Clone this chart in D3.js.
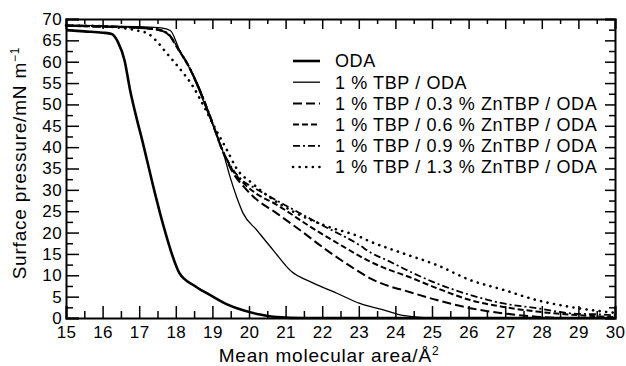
<!DOCTYPE html>
<html>
<head>
<meta charset="utf-8">
<script src="https://cdn.jsdelivr.net/npm/d3@7"></script>
<style>
  body { margin: 0; background: #fff; }
  svg { display: block; font-family: "Liberation Sans", Arial, sans-serif; }
  .axis path, .axis line { stroke: #000; }
  .axis text { font-size: 17px; fill: #000; letter-spacing: 0.4px; }
</style>
</head>
<body>
<svg id="chart" width="626" height="366"></svg>
<script>
// area (Å²) vs surface pressure (mN/m)
const oda = [[15,67.4],[15.5,67.1],[16,66.8],[16.25,66.5],[16.42,64.6],[16.6,60.3],[16.75,53.4],[16.9,47.8],[17.1,41],[17.35,32],[17.65,22],[18.1,10.5],[18.5,7.6],[18.93,5.4],[19.4,3.2],[19.84,1.8],[20.3,0.8],[20.76,0.2],[21.5,0],[30,0]];
const tbp = [[15,68.6],[16,68.4],[17,68.2],[17.6,67.9],[17.85,67.3],[18.1,62.8],[18.33,59.3],[18.6,54],[18.9,47.5],[19.3,38.6],[19.48,33.1],[19.66,28.4],[19.84,24.5],[20.21,20.6],[20.66,15.9],[21.17,10.8],[21.67,8.5],[22.4,5.8],[23.03,3.4],[23.67,1.9],[24.1,0.8],[24.6,0.2],[25,0],[30,0]];
const zn03 = [[15,68.4],[16,68.2],[17,67.9],[17.5,67.5],[17.8,66.4],[18.1,62.5],[18.33,59.3],[18.6,54.5],[18.9,48],[19.3,38.6],[19.6,33.5],[19.85,30.8],[20.12,28.4],[20.76,24.5],[21.39,20.6],[22.12,15.9],[22.94,11.2],[23.31,9.3],[23.85,7.4],[24.22,6.5],[25.13,4.2],[26.04,2.3],[26.95,1.1],[27.86,0.3],[28.5,0],[30,0]];
const zn06 = [[15,68.4],[16,68.2],[17,67.9],[17.5,67.5],[17.8,66.3],[18.1,62.4],[18.33,59.2],[18.6,54.4],[18.9,48],[19.3,38.8],[19.6,34],[19.85,31.6],[20.12,29.6],[20.76,26.5],[21.67,21.4],[22.58,16.7],[23.31,13.2],[23.85,11.2],[24.22,10.1],[25.13,7],[26.04,4.2],[26.95,2.6],[27.86,1.5],[28.77,0.8],[30,0.2]];
const zn09 = [[15,68.5],[16,68.3],[17,68],[17.5,67.6],[17.8,66.5],[18.1,62.6],[18.33,59.4],[18.6,54.6],[18.9,48.2],[19.3,38.9],[19.6,34.3],[19.85,32],[20.12,30.6],[21.12,25.8],[22.03,21.6],[23.03,17],[23.31,15.4],[23.85,13.2],[24.22,11.6],[25.13,8.1],[26.04,5.4],[26.95,3.4],[27.86,2.3],[28.77,1.1],[29.68,0.8],[30,0.6]];
const zn13 = [[15,68.5],[16,68.3],[16.6,67.8],[17,67.2],[17.24,66.6],[17.5,64.6],[17.76,61.9],[17.98,59.7],[18.2,57.4],[18.44,54.6],[18.8,49],[19.1,44],[19.4,39.3],[19.66,35],[20.08,31.6],[20.39,29.4],[21.21,24.9],[22.12,21.5],[23.03,19],[23.31,17.9],[23.85,16.2],[24.22,15.1],[25.13,12.4],[26.04,8.9],[26.95,6.6],[27.86,4.2],[28.77,2.6],[29.68,1.5],[30,1.2]];

const seriesNames = ['ODA', '1 % TBP / ODA', '1 % TBP / 0.3 % ZnTBP / ODA', '1 % TBP / 0.6 % ZnTBP / ODA', '1 % TBP / 0.9 % ZnTBP / ODA', '1 % TBP / 1.3 % ZnTBP / ODA'];
const xTicks = d3.range(15, 31);
const yTicks = d3.range(0, 71, 5);

const styles = [
    { width: 2.6, dash: null, cap: 'butt' },
    { width: 1.3, dash: null, cap: 'butt' },
    { width: 2, dash: '9,4', cap: 'butt' },
    { width: 2, dash: '6,3', cap: 'butt' },
    { width: 1.8, dash: '7,3,2,3', cap: 'butt' },
    { width: 2.6, dash: '0.1,6.5', cap: 'round' },
];
const allSeries = [oda, tbp, zn03, zn06, zn09, zn13];

const svg = d3.select('#chart');
const x = d3.scaleLinear().domain([15, 30]).range([66, 615]);
const y = d3.scaleLinear().domain([0, 70]).range([318, 19]);

// bottom axis, ticks point inward
svg.append('g').attr('class', 'axis').attr('transform', 'translate(0,318)')
    .call(d3.axisBottom(x).tickValues(xTicks).tickSize(-12).tickPadding(8).tickFormat(d3.format('d')));
svg.append('g').attr('class', 'axis minor').attr('transform', 'translate(0,318)')
    .call(d3.axisBottom(x).tickValues(d3.range(15.5, 30, 1)).tickSize(-7).tickFormat(''));
// top
svg.append('g').attr('class', 'axis').attr('transform', 'translate(0,19)')
    .call(d3.axisTop(x).tickValues(xTicks).tickSize(-10).tickFormat(''));
svg.append('g').attr('class', 'axis minor').attr('transform', 'translate(0,19)')
    .call(d3.axisTop(x).tickValues(d3.range(15.5, 30, 1)).tickSize(-5).tickFormat(''));
// left
svg.append('g').attr('class', 'axis').attr('transform', 'translate(66,0)')
    .call(d3.axisLeft(y).tickValues(yTicks).tickSize(-13).tickPadding(4).tickFormat(d3.format('d')));
svg.append('g').attr('class', 'axis minor').attr('transform', 'translate(66,0)')
    .call(d3.axisLeft(y).tickValues(d3.range(2.5, 70, 5)).tickSize(-7).tickFormat(''));
// right
svg.append('g').attr('class', 'axis').attr('transform', 'translate(615,0)')
    .call(d3.axisRight(y).tickValues(yTicks).tickSize(-10).tickFormat(''));
svg.append('g').attr('class', 'axis minor').attr('transform', 'translate(615,0)')
    .call(d3.axisRight(y).tickValues(d3.range(2.5, 70, 5)).tickSize(-6).tickFormat(''));

svg.selectAll('.axis path').attr('stroke-width', 2);
svg.selectAll('.minor path').remove();
svg.selectAll('.axis line').attr('stroke-width', 1.5);

const line = d3.line().x(d => x(d[0])).y(d => y(d[1])).curve(d3.curveMonotoneX);

svg.append('g').selectAll('path')
    .data(allSeries)
    .join('path')
    .attr('d', line)
    .attr('fill', 'none')
    .attr('stroke', '#000')
    .attr('stroke-width', (d, i) => styles[i].width)
    .attr('stroke-dasharray', (d, i) => styles[i].dash)
    .attr('stroke-linecap', (d, i) => styles[i].cap)
    .attr('stroke-linejoin', 'round');

// legend
const legend = svg.append('g').attr('transform', 'translate(293,61)');
seriesNames.forEach((name, i) => {
    const row = legend.append('g').attr('transform', `translate(0,${i * 21.2})`);
    row.append('line')
        .attr('x1', 0).attr('x2', 27).attr('y1', 0).attr('y2', 0)
        .attr('stroke', '#000')
        .attr('stroke-width', styles[i].width)
        .attr('stroke-dasharray', styles[i].dash)
        .attr('stroke-linecap', styles[i].cap);
    row.append('text')
        .attr('x', 42).attr('y', 0).attr('dy', '0.35em')
        .style('font-size', '18px').style('letter-spacing', '0.6px')
        .text(name);
});

// axis titles
svg.append('text')
    .attr('x', 329).attr('y', 362)
    .attr('text-anchor', 'middle')
    .style('font-size', '19px').style('letter-spacing', '0.8px')
    .html('Mean molecular area/Å<tspan dy="-7" font-size="12px">2</tspan>');

svg.append('text')
    .attr('transform', 'translate(26,163) rotate(-90)')
    .attr('text-anchor', 'middle')
    .style('font-size', '19px').style('letter-spacing', '0.8px')
    .html('Surface pressure/mN m<tspan dy="-7" font-size="12px">−1</tspan>');
</script>
</body>
</html>
